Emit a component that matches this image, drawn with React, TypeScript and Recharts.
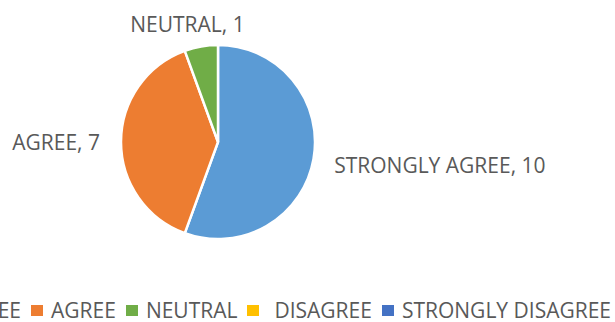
import React from "react";
import { PieChart, Pie, Cell, Legend } from "recharts";

const categories = ["STRONGLY AGREE", "AGREE", "NEUTRAL", "DISAGREE", "STRONGLY DISAGREE"];
const counts = [10, 7, 1, 0, 0];
const colors = ["#5B9BD5", "#ED7D31", "#70AD47", "#FFC000", "#4472C4"];

const data = categories.map((name, i) => ({ name, value: counts[i] }));

const FONT = "'Open Sans', sans-serif";
const TEXT = "#595959";
const RAD = Math.PI / 180;

const renderLabel = (props: any) => {
  const { cx, cy, midAngle, outerRadius, value, name } = props;
  if (!value) return null;
  const r = outerRadius + 21;
  const c = Math.cos(-midAngle * RAD);
  const s = Math.sin(-midAngle * RAD);
  const x = cx + r * c;
  const y = cy + r * s;
  const anchor = c > 0.3 ? "start" : c < -0.3 ? "end" : "middle";
  return (
    <text
      x={x + (anchor === "middle" ? -10 : 0)}
      y={y + (anchor === "start" ? 3 : anchor === "middle" ? -2 : 0)}
      textAnchor={anchor}
      dominantBaseline="central"
      fill={TEXT}
      fontSize={21}
      fontFamily={FONT}
    >
      {`${name}, ${value}`}
    </text>
  );
};

const renderLegend = () => (
  <div
    style={{
      display: "flex",
      alignItems: "center",
      whiteSpace: "nowrap",
      fontFamily: FONT,
      fontSize: 21,
      color: TEXT,
      lineHeight: "20px",
    }}
  >
    {categories.map((c, i) => (
      <span key={c} style={{ display: "inline-flex", alignItems: "center", marginLeft: i === 0 ? 0 : 10 }}>
        <span
          style={{
            display: "inline-block",
            width: 12,
            height: 11,
            background: colors[i],
            marginRight: c === "DISAGREE" ? 15 : 8,
          }}
        />
        <span>{c}</span>
      </span>
    ))}
  </div>
);

export default function App() {
  return (
    <div style={{ position: "absolute", left: 0, top: 0, width: 615, height: 322, overflow: "hidden", background: "#fff" }}>
      <PieChart width={615} height={322} margin={{ top: 0, right: 0, bottom: 0, left: 0 }}>
        <Pie
          data={data}
          dataKey="value"
          nameKey="name"
          cx={218}
          cy={142}
          outerRadius={97}
          startAngle={90}
          endAngle={-270}
          stroke="#ffffff"
          strokeWidth={2.5}
          label={renderLabel}
          labelLine={false}
          isAnimationActive={false}
        >
          {data.map((d, i) => (
            <Cell key={d.name} fill={colors[i]} />
          ))}
        </Pie>
        <Legend
          content={renderLegend}
          wrapperStyle={{ position: "absolute", top: 300, right: 4, left: "auto", width: "auto", bottom: "auto" }}
        />
      </PieChart>
    </div>
  );
}
